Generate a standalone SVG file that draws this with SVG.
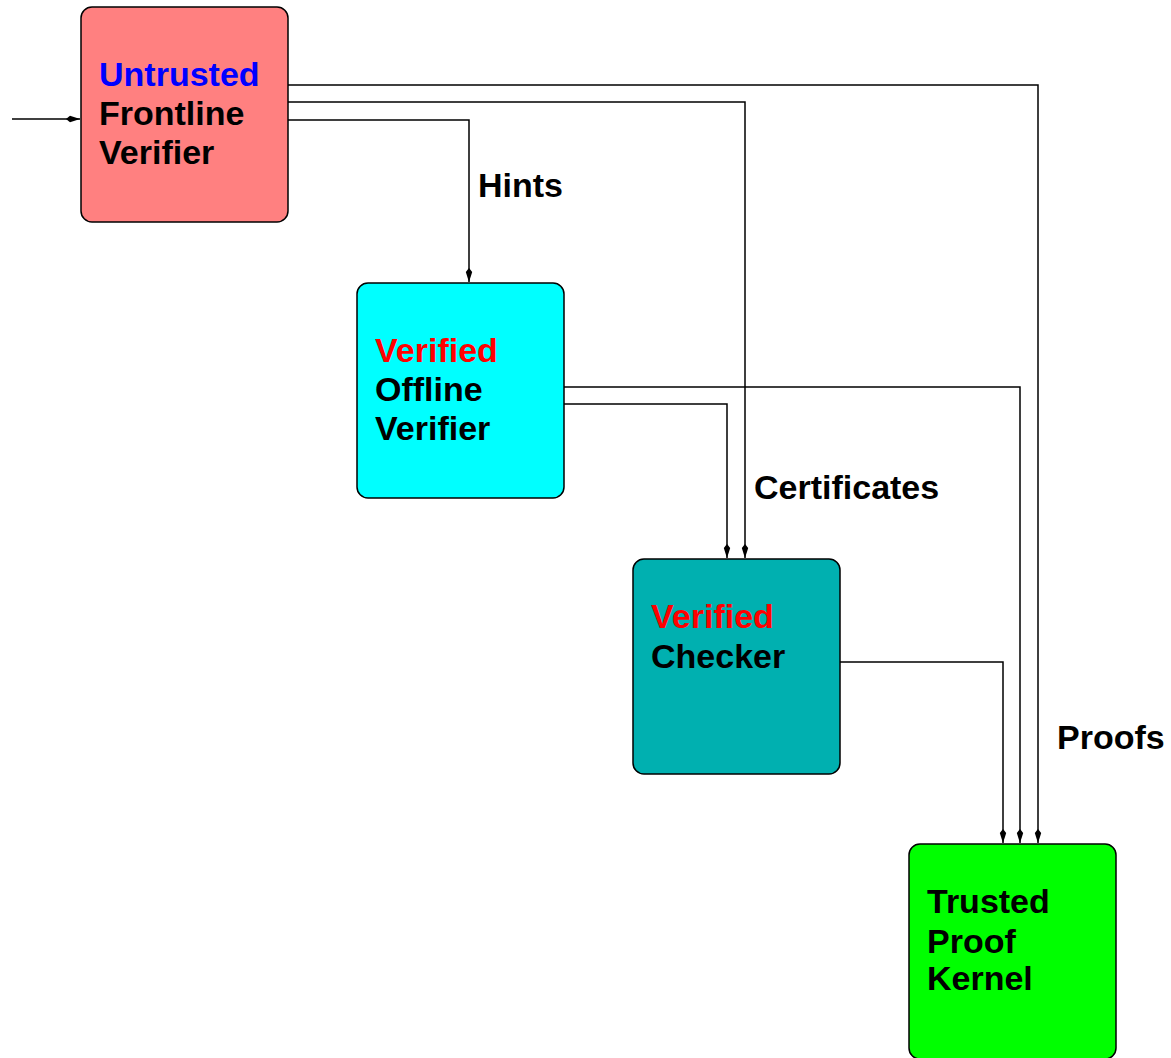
<svg xmlns="http://www.w3.org/2000/svg" width="1171" height="1058" viewBox="0 0 1171 1058">
<style>
.box{stroke:#000;stroke-width:1.5}
.t{font-family:"Liberation Sans",Arial,sans-serif;font-weight:bold;font-size:34px;fill:#000}
.red{fill:#FF0000}
.blue{fill:#0000FF}
.c{fill:none;stroke:#000;stroke-width:1.5}
</style>
<defs>
<marker id="ah" markerUnits="userSpaceOnUse" markerWidth="16" markerHeight="10" viewBox="0 0 16 10" refX="15" refY="5" orient="auto">
<path d="M1,5 L5,1.8 L15,5 L5,8.2 Z" fill="#000"/>
</marker>
</defs>
<rect width="1171" height="1058" fill="#fff"/>
<g id="connectors">
<path class="c" d="M12,119 H80" marker-end="url(#ah)"/>
<path class="c" d="M288,85 H1038 V843" marker-end="url(#ah)"/>
<path class="c" d="M288,102 H745 V558" marker-end="url(#ah)"/>
<path class="c" d="M288,120 H469 V282" marker-end="url(#ah)"/>
<path class="c" d="M564,387 H1020 V843" marker-end="url(#ah)"/>
<path class="c" d="M564,404 H727 V558" marker-end="url(#ah)"/>
<path class="c" d="M840,662 H1003 V843" marker-end="url(#ah)"/>
<text class="t" x="478" y="197">Hints</text>
<text class="t" x="754" y="499">Certificates</text>
<text class="t" x="1057" y="749">Proofs</text>
</g>
<g id="frontline">
<rect class="box" x="81" y="7" width="207" height="215" rx="11" fill="#FF8080"/>
<text class="t" x="99" y="86"><tspan class="blue">Untrusted</tspan></text>
<text class="t" x="99" y="125">Frontline</text>
<text class="t" x="99" y="164">Verifier</text>
</g>
<g id="offline">
<rect class="box" x="357" y="283" width="207" height="215" rx="11" fill="#00FFFF"/>
<text class="t" x="375" y="362"><tspan class="red">Verified</tspan></text>
<text class="t" x="375" y="401">Offline</text>
<text class="t" x="375" y="440">Verifier</text>
</g>
<g id="checker">
<rect class="box" x="633" y="559" width="207" height="215" rx="11" fill="#00B0B0"/>
<text class="t" x="651" y="628"><tspan class="red">Verified</tspan></text>
<text class="t" x="651" y="668">Checker</text>
</g>
<g id="kernel">
<rect class="box" x="909" y="844" width="207" height="215" rx="11" fill="#00FF00"/>
<text class="t" x="927" y="913">Trusted</text>
<text class="t" x="927" y="953">Proof</text>
<text class="t" x="927" y="990">Kernel</text>
</g>
</svg>
